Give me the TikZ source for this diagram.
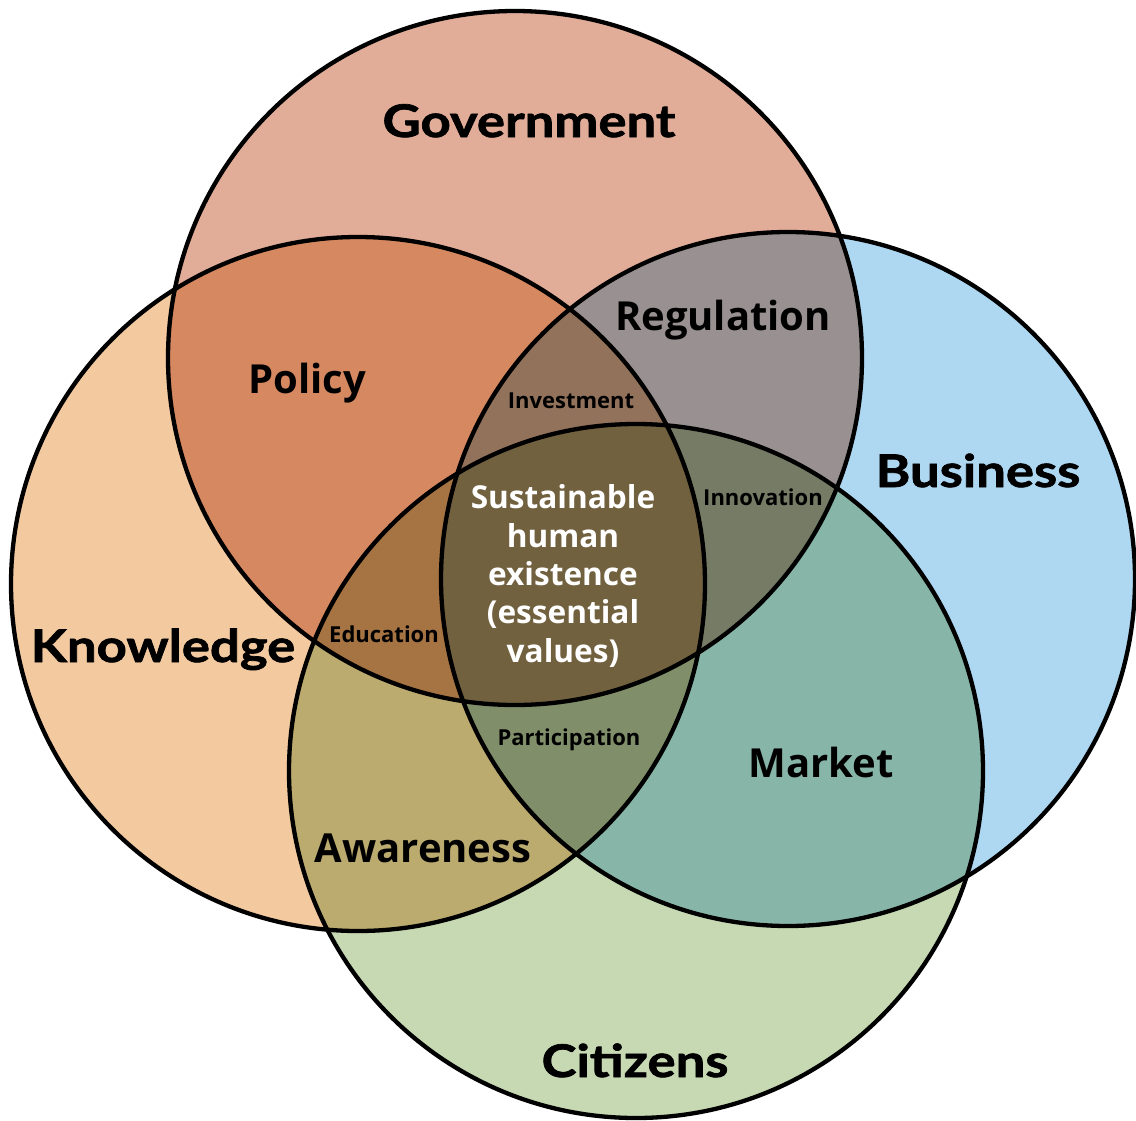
\documentclass[tikz,border=0pt]{standalone}
\usepackage{fontspec}
\newfontfamily\labfont{Lato}[BoldFeatures={FakeBold=1.6, FakeStretch=1.17}]
\newfontfamily\osfont{Open Sans}
\definecolor{govfill}{RGB}{225,173,153}
\definecolor{knowfill}{RGB}{243,201,160}
\definecolor{busfill}{RGB}{174,215,242}
\definecolor{citfill}{RGB}{198,217,178}
\begin{document}
\begin{tikzpicture}[x=1pt,y=-1pt,
  ring/.style={circle, inner sep=0pt, minimum size=694pt, line width=4.3pt,
    draw=black, blend mode=multiply},
  biglab/.style={font=\labfont\bfseries\fontsize{45}{50}\selectfont, anchor=base},
  midlab/.style={font=\osfont\bfseries\fontsize{40}{46}\selectfont, anchor=base},
  smalllab/.style={font=\osfont\bfseries\fontsize{22}{26}\selectfont, anchor=base},
  corelab/.style={font=\osfont\bfseries\fontsize{31.6}{38.3}\selectfont,
    text=white, align=center}]
\useasboundingbox (0,0) rectangle (1136,1120);
\fill[white] (0,0) rectangle (1136,1120);

% the four overlapping sets, multiplied where they overlap
\node[ring, fill=govfill]  (gov)  at (515,358) {};
\node[ring, fill=knowfill] (know) at (358,584) {};
\node[ring, fill=busfill]  (bus)  at (788,579) {};
\node[ring, fill=citfill]  (cit)  at (636,771) {};

% set names
\node[biglab] (govlab)  at (529,137)  {Government};
\node[biglab] (knowlab) at (163,662)  {Knowledge};
\node[biglab] (buslab)  at (978,487)  {Business};
\node[biglab] (citlab)  at (635,1077) {Citizens};

% pairwise overlaps
\node[midlab] (policy) at (307,393) {Policy};
\node[midlab] (regul)  at (723,330) {Regulation};
\node[midlab] (market) at (821,777) {Market};
\node[midlab] (aware)  at (423,862) {Awareness};

% triple overlaps
\node[smalllab] (invest) at (571,408) {Investment};
\node[smalllab] (innov)  at (763,505) {Innovation};
\node[smalllab] (educ)   at (384,642) {Education};
\node[smalllab] (partic) at (569,745) {Participation};

% common core
\node[corelab] (core) at (563,576)
  {Sustainable\\human\\existence\\(essential\\values)};
\end{tikzpicture}
\end{document}
